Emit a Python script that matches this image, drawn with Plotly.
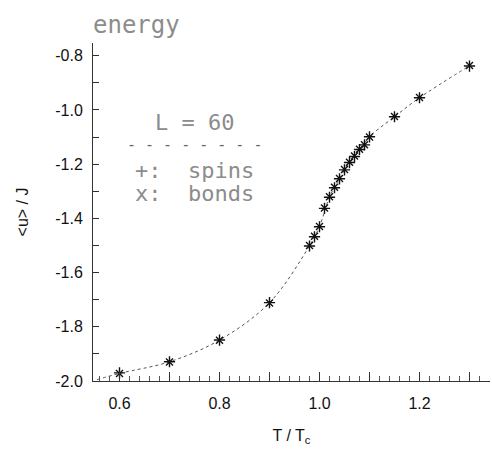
import plotly.graph_objects as go

# data
T_spins = [0.6, 0.7, 0.8, 0.9, 0.98, 0.99, 1.0, 1.01, 1.02, 1.03, 1.04, 1.05,
           1.06, 1.07, 1.08, 1.09, 1.10, 1.15, 1.20, 1.30]
u_spins = [-1.970, -1.929, -1.849, -1.711, -1.502, -1.468, -1.431, -1.363, -1.322,
           -1.287, -1.254, -1.221, -1.194, -1.172, -1.146, -1.129, -1.099, -1.025,
           -0.955, -0.838]
T_bonds = [0.6, 0.7, 0.8, 0.9, 0.98, 0.99, 1.0, 1.01, 1.02, 1.03, 1.04, 1.05,
           1.06, 1.07, 1.08, 1.09, 1.10, 1.15, 1.20, 1.30]
u_bonds = [-1.972, -1.930, -1.850, -1.712, -1.500, -1.466, -1.430, -1.362, -1.320,
           -1.285, -1.253, -1.220, -1.193, -1.170, -1.145, -1.128, -1.100, -1.024,
           -0.954, -0.836]
T_fit = [0.555, 0.6, 0.7, 0.8, 0.9, 0.98, 1.0, 1.02, 1.04, 1.06, 1.08, 1.10,
         1.15, 1.20, 1.30]
u_fit = [-1.995, -1.972, -1.929, -1.849, -1.711, -1.501, -1.430, -1.321, -1.253,
         -1.193, -1.146, -1.099, -1.025, -0.955, -0.837]

x_tick_vals = [0.6, 0.7, 0.8, 0.9, 1.0, 1.1, 1.2, 1.3]
x_tick_text = ["0.6", " ", "0.8", " ", "1.0", " ", "1.2", " "]
x_minor_vals = [round(0.56 + 0.02 * i, 2) for i in range(39)]
y_tick_vals = [-2.0, -1.9, -1.8, -1.7, -1.6, -1.5, -1.4, -1.3, -1.2, -1.1, -1.0, -0.9, -0.8]
y_tick_text = ["-2.0", " ", "-1.8", " ", "-1.6", " ", "-1.4", " ", "-1.2", " ", "-1.0", " ", "-0.8"]

fig = go.Figure()
fig.add_trace(go.Scatter(x=T_fit, y=u_fit, mode="lines", line_shape="spline",
                         line=dict(color="#555555", width=1, dash="dot"),
                         showlegend=False, hoverinfo="skip"))
fig.add_trace(go.Scatter(x=T_spins, y=u_spins, mode="markers", name="spins",
                         marker=dict(symbol="cross-thin-open", size=8, color="#111111",
                                     line=dict(color="#111111", width=1.4)),
                         showlegend=False))
fig.add_trace(go.Scatter(x=T_bonds, y=u_bonds, mode="markers", name="bonds",
                         marker=dict(symbol="x-thin-open", size=7, color="#111111",
                                     line=dict(color="#111111", width=1.4)),
                         showlegend=False))

tickfont = dict(family="Liberation Sans, Arial, sans-serif", size=16, color="#111111")
legfont = dict(family="DejaVu Sans Mono, monospace", size=22, color="#8c8c8c")

fig.update_layout(
    width=492, height=454,
    margin=dict(l=93, r=2, t=43, b=73),
    plot_bgcolor="white", paper_bgcolor="white",
    xaxis=dict(range=[0.547, 1.341], showgrid=False, zeroline=False,
               showline=True, linecolor="#333333", linewidth=1,
               tickmode="array", tickvals=x_tick_vals, ticktext=x_tick_text,
               ticks="inside", ticklen=9, tickcolor="#333333", tickwidth=1,
               minor=dict(tickmode="array", tickvals=x_minor_vals, ticks="inside",
                          ticklen=5, tickcolor="#555555", tickwidth=1),
               tickfont=tickfont, ticklabelstandoff=8,
               title=dict(text="T / T<sub>c</sub>", font=tickfont, standoff=18)),
    yaxis=dict(range=[-2.0, -0.753], showgrid=False, zeroline=False,
               showline=True, linecolor="#333333", linewidth=1,
               tickmode="array", tickvals=y_tick_vals, ticktext=y_tick_text,
               ticks="inside", ticklen=6, tickcolor="#333333", tickwidth=1,
               tickfont=tickfont, ticklabelstandoff=6,
               title=dict(text="&lt;u&gt; / J", font=tickfont, standoff=22)),
    annotations=[
        dict(text="energy", xref="paper", yref="paper", x=-0.005, y=1.10,
             xanchor="left", yanchor="top", showarrow=False,
             font=dict(family="DejaVu Sans Mono, monospace", size=24, color="#8c8c8c")),
        dict(text="L = 60", xref="paper", yref="paper", x=0.255, y=0.765,
             xanchor="center", yanchor="middle", showarrow=False, font=legfont),
        dict(text="- - - - - - - -", xref="paper", yref="paper", x=0.255, y=0.697,
             xanchor="center", yanchor="middle", showarrow=False,
             font=dict(family="DejaVu Sans Mono, monospace", size=15, color="#666666")),
        dict(text="+:  spins", xref="paper", yref="paper", x=0.10, y=0.624,
             xanchor="left", yanchor="middle", showarrow=False, font=legfont),
        dict(text="x:  bonds", xref="paper", yref="paper", x=0.10, y=0.556,
             xanchor="left", yanchor="middle", showarrow=False, font=legfont),
    ],
)

fig.write_html("out.html")
